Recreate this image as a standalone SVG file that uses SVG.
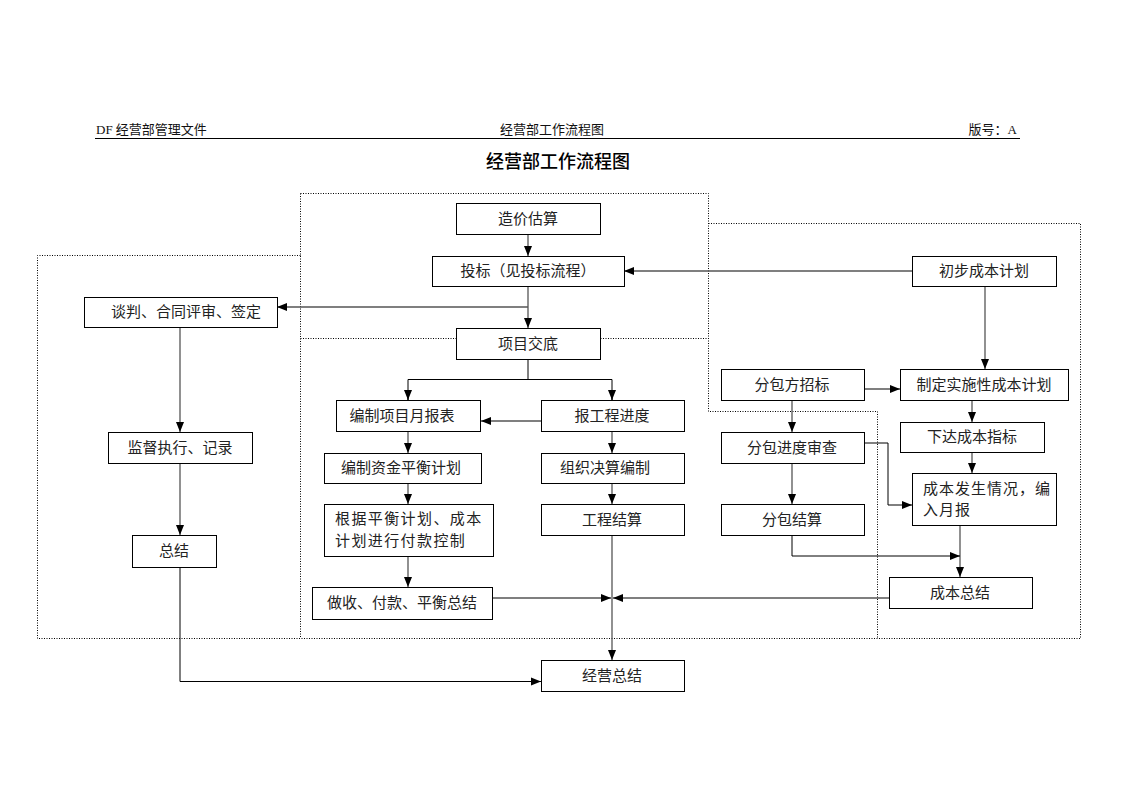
<svg xmlns="http://www.w3.org/2000/svg" width="1122" height="793" viewBox="0 0 1122 793">
<style>
.hdr{font-family:"Liberation Serif","Noto Sans CJK SC",serif;font-size:13px;fill:#111}
.ttl{font-family:"Liberation Serif","Noto Sans CJK SC",serif;font-size:18px;font-weight:500;fill:#000}
.box{fill:#fff;stroke:#000;stroke-width:1}
.t{font-family:"Liberation Serif","Noto Sans CJK SC",serif;font-size:15px;fill:#222;text-anchor:middle;dominant-baseline:central}
.tl{font-family:"Liberation Serif","Noto Sans CJK SC",serif;font-size:15px;fill:#222;dominant-baseline:central}
.dot{fill:none;stroke:#000;stroke-width:1;stroke-dasharray:1 1.5}
.c{fill:none;stroke:#555;stroke-width:1.3}
.ck{fill:none;stroke:#000;stroke-width:1}
</style>
<defs>
<marker id="ah" markerUnits="userSpaceOnUse" markerWidth="10" markerHeight="10" viewBox="0 0 10 10" refX="10" refY="5" orient="auto">
<path d="M0,1 L10,5 L0,9 Z" fill="#000"/>
</marker>
</defs>
<rect width="1122" height="793" fill="#fff"/>
<g id="header">
<text class="hdr" x="96" y="134">DF 经营部管理文件</text>
<text class="hdr" x="552" y="134" text-anchor="middle">经营部工作流程图</text>
<text class="hdr" x="1017" y="134" text-anchor="end">版号：A</text>
<line x1="95" y1="138.5" x2="1020" y2="138.5" stroke="#000" stroke-width="1"/>
<text class="ttl" x="558" y="168" text-anchor="middle">经营部工作流程图</text>
</g>
<g id="regions">
<path class="dot" d="M300.5,193.5 H708.5 V411.5 H877.5 V638.5"/>
<path class="dot" d="M708.5,223.5 H1080.5 V638.5 H37.5 V255.5 H300.5"/>
<path class="dot" d="M300.5,193.5 V638.5"/>
<path class="dot" d="M300.5,338.5 H708.5"/>
</g>
<g id="connectors">
<line class="c" x1="528" y1="234" x2="528" y2="256" marker-end="url(#ah)"/>
<line class="c" x1="528" y1="286" x2="528" y2="328" marker-end="url(#ah)"/>
<line class="c" x1="528" y1="307" x2="277" y2="307" marker-end="url(#ah)"/>
<line class="c" x1="912" y1="271" x2="624" y2="271" marker-end="url(#ah)"/>
<line class="c" x1="985" y1="286" x2="985" y2="369" marker-end="url(#ah)"/>
<line class="c" x1="864" y1="389" x2="900" y2="389" marker-end="url(#ah)"/>
<line class="c" x1="972" y1="400" x2="972" y2="422" marker-end="url(#ah)"/>
<line class="c" x1="972" y1="452" x2="972" y2="473" marker-end="url(#ah)"/>
<line class="c" x1="960" y1="526" x2="960" y2="577" marker-end="url(#ah)"/>
<line class="c" x1="792" y1="400" x2="792" y2="432" marker-end="url(#ah)"/>
<line class="c" x1="792" y1="463" x2="792" y2="504" marker-end="url(#ah)"/>
<path class="ck" d="M864,443 H888 V505 H912" marker-end="url(#ah)"/>
<path class="ck" d="M792,535 V556 H960" marker-end="url(#ah)"/>
<line class="c" x1="180" y1="327" x2="180" y2="432" marker-end="url(#ah)"/>
<line class="c" x1="180" y1="463" x2="180" y2="535" marker-end="url(#ah)"/>
<path class="ck" d="M180,567 V681.5 H541" marker-end="url(#ah)"/>
<path class="ck" d="M528,359 V379.5"/>
<path class="ck" d="M408,400 V379.5 H612 V400"/>
<line class="ck" x1="408" y1="392" x2="408" y2="400" marker-end="url(#ah)"/>
<line class="ck" x1="612" y1="392" x2="612" y2="400" marker-end="url(#ah)"/>
<line class="c" x1="541" y1="421" x2="481" y2="421" marker-end="url(#ah)"/>
<line class="c" x1="408" y1="431" x2="408" y2="453" marker-end="url(#ah)"/>
<line class="c" x1="408" y1="483" x2="408" y2="504" marker-end="url(#ah)"/>
<line class="c" x1="408" y1="556" x2="408" y2="587" marker-end="url(#ah)"/>
<line class="c" x1="612" y1="431" x2="612" y2="453" marker-end="url(#ah)"/>
<line class="c" x1="612" y1="483" x2="612" y2="504" marker-end="url(#ah)"/>
<line class="c" x1="612" y1="535" x2="612" y2="660" marker-end="url(#ah)"/>
<line class="c" x1="493" y1="598" x2="611" y2="598" marker-end="url(#ah)"/>
<line class="c" x1="889" y1="598" x2="613" y2="598" marker-end="url(#ah)"/>
</g>
<g id="n_zaojia"><rect class="box" x="456.5" y="203.5" width="144" height="31"/><text class="t" x="528" y="219">造价估算</text></g>
<g id="n_toubiao"><rect class="box" x="432.5" y="256.5" width="192" height="30"/><text class="t" x="528" y="271">投标（见投标流程）</text></g>
<g id="n_xiangmu"><rect class="box" x="456.5" y="328.5" width="144" height="31"/><text class="t" x="528" y="344">项目交底</text></g>
<g id="n_tanpan"><rect class="box" x="84.5" y="297.5" width="193" height="30"/><text class="tl" x="111" y="312">谈判、合同评审、签定</text></g>
<g id="n_jiandu"><rect class="box" x="108.5" y="432.5" width="144" height="31"/><text class="t" x="180" y="448">监督执行、记录</text></g>
<g id="n_zongjie"><rect class="box" x="132.5" y="535.5" width="84" height="32"/><text class="t" x="174" y="551">总结</text></g>
<g id="n_chubu"><rect class="box" x="912.5" y="256.5" width="144" height="30"/><text class="t" x="984" y="271">初步成本计划</text></g>
<g id="n_zhiding"><rect class="box" x="900.5" y="369.5" width="168" height="31"/><text class="t" x="984" y="385">制定实施性成本计划</text></g>
<g id="n_fenbaozhao"><rect class="box" x="721.5" y="369.5" width="143" height="31"/><text class="t" x="792" y="385">分包方招标</text></g>
<g id="n_fenbaojin"><rect class="box" x="721.5" y="432.5" width="143" height="31"/><text class="t" x="792" y="448">分包进度审查</text></g>
<g id="n_fenbaojie"><rect class="box" x="721.5" y="504.5" width="143" height="31"/><text class="t" x="792" y="520">分包结算</text></g>
<g id="n_xiada"><rect class="box" x="900.5" y="422.5" width="144" height="30"/><text class="t" x="972" y="437">下达成本指标</text></g>
<g id="n_fasheng"><rect class="box" x="912.5" y="473.5" width="144" height="52"/><text class="tl" x="923" y="489" letter-spacing="1">成本发生情况，编</text><text class="tl" x="923" y="510" letter-spacing="1">入月报</text></g>
<g id="n_chengben"><rect class="box" x="889.5" y="577.5" width="143" height="31"/><text class="t" x="960" y="593">成本总结</text></g>
<g id="n_yuebao"><rect class="box" x="336.5" y="400.5" width="144" height="31"/><text class="t" x="402" y="416">编制项目月报表</text></g>
<g id="n_baogong"><rect class="box" x="541.5" y="400.5" width="143" height="31"/><text class="t" x="612" y="416">报工程进度</text></g>
<g id="n_zijin"><rect class="box" x="324.5" y="453.5" width="157" height="30"/><text class="t" x="401" y="468">编制资金平衡计划</text></g>
<g id="n_juesuan"><rect class="box" x="541.5" y="453.5" width="143" height="30"/><text class="t" x="605" y="468">组织决算编制</text></g>
<g id="n_genju"><rect class="box" x="324.5" y="504.5" width="169" height="52"/><text class="tl" x="335" y="519" letter-spacing="1.4">根据平衡计划、成本</text><text class="tl" x="335" y="541" letter-spacing="1.4">计划进行付款控制</text></g>
<g id="n_gongcheng"><rect class="box" x="541.5" y="504.5" width="143" height="31"/><text class="t" x="612" y="520">工程结算</text></g>
<g id="n_zuoshou"><rect class="box" x="312.5" y="587.5" width="180" height="32"/><text class="t" x="402" y="603">做收、付款、平衡总结</text></g>
<g id="n_jingying"><rect class="box" x="541.5" y="660.5" width="143" height="31"/><text class="t" x="612" y="676">经营总结</text></g>
</svg>
